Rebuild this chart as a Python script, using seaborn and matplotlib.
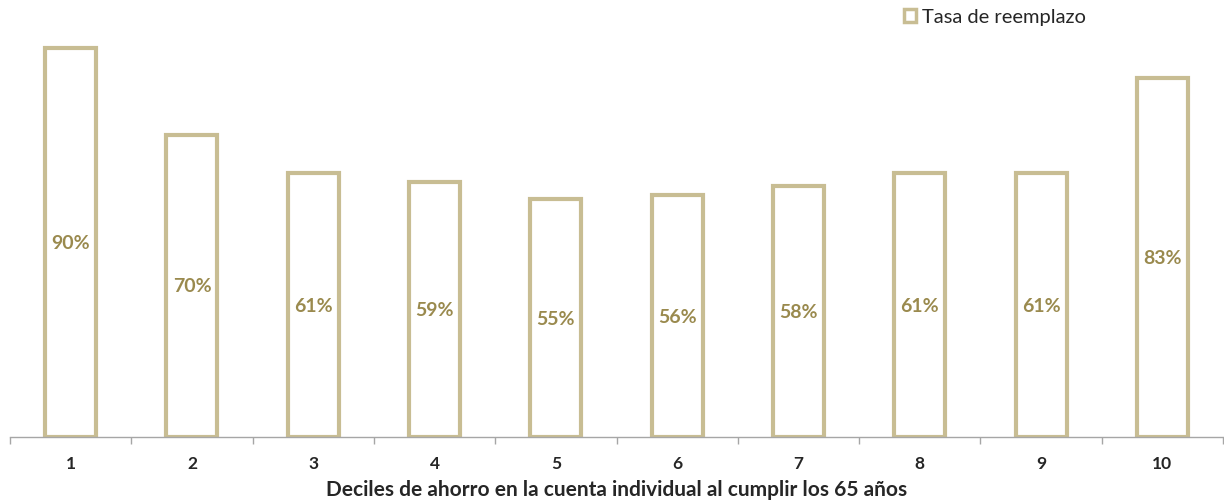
import matplotlib
matplotlib.use('Agg')
import matplotlib.pyplot as plt
from matplotlib.patches import Patch
import seaborn as sns
import pandas as pd

deciles = ['1', '2', '3', '4', '5', '6', '7', '8', '9', '10']
tasa = [90, 70, 61, 59, 55, 56, 58, 61, 61, 83]

edge = '#C8BD93'
label_color = '#9A8A4E'

sns.set_style('white')
plt.rcParams['font.family'] = ['Lato', 'DejaVu Sans']

df = pd.DataFrame({'decil': deciles, 'tasa': tasa})

fig = plt.figure(figsize=(12.24, 5.02), dpi=100)
ax = fig.add_axes([10 / 1224, 64 / 502, 1213 / 1224, 432 / 502])

sns.barplot(data=df, x='decil', y='tasa', ax=ax, color='white', saturation=1,
            edgecolor=edge, linewidth=3, width=0.42)

ax.set_ylim(0, 100)
ax.set_xlim(-0.5, len(deciles) - 0.5)
ax.set_yticks([])
for s in ['top', 'right', 'left']:
    ax.spines[s].set_visible(False)
ax.spines['bottom'].set_color('#A6A6A6')
ax.spines['bottom'].set_linewidth(1)

# tick marks sit between the categories
ax.set_xticks([i - 0.5 for i in range(len(deciles) + 1)], minor=True)
ax.tick_params(axis='x', which='minor', bottom=True, length=5, color='#A6A6A6', width=1, direction='out')
ax.tick_params(axis='x', which='major', bottom=False, length=0, pad=13)
for t in ax.get_xticklabels():
    t.set_fontweight('bold')
    t.set_fontsize(12.5)

ax.set_xlabel('Deciles de ahorro en la cuenta individual al cumplir los 65 años',
              fontsize=15, fontweight='bold', labelpad=6)
ax.set_ylabel('')

ax.bar_label(ax.containers[0], labels=[f'{v}%' for v in tasa], label_type='center',
             color=label_color, fontsize=14, fontweight='bold')

handle = Patch(facecolor='white', edgecolor=edge, linewidth=2.5, label='Tasa de reemplazo')
fig.legend(handles=[handle], loc='center right', bbox_to_anchor=(1096 / 1224, 1 - 18 / 502),
           frameon=False, fontsize=14.5, handlelength=0.6, handleheight=0.6, handletextpad=0.3,
           borderpad=0)

fig.savefig('out.png', dpi=100)
